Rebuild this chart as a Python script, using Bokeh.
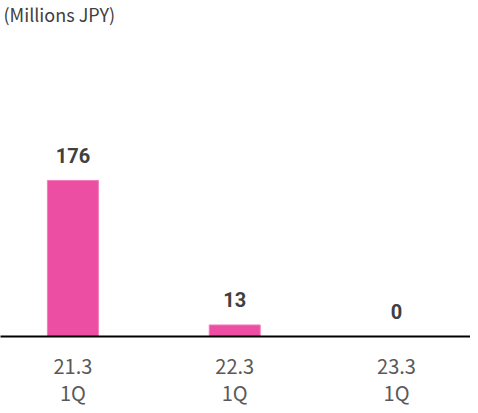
from bokeh.plotting import figure
from bokeh.models import Range1d, ColumnDataSource, Label, FixedTicker
from bokeh.core.properties import value
from bokeh.embed import file_html
from bokeh.resources import INLINE

periods = ["21.3", "22.3", "23.3"]
quarters = ["1Q", "1Q", "1Q"]
values = [176, 13, 0]
unit_label = "(Millions JPY)"

xs = list(range(len(periods)))
FONT = "Noto Sans CJK JP"
X0, X1 = -0.4475, 2.457
YMAX = 379
p = figure(frame_width=470, frame_height=336,
           x_range=Range1d(X0, X1), y_range=Range1d(0, YMAX),
           output_backend="svg", toolbar_location=None,
           y_axis_location=None, min_border_left=0, min_border_right=0,
           min_border_top=0, min_border_bottom=69)
p.outline_line_color = None
p.grid.visible = False

src = ColumnDataSource(dict(x=xs, top=values, lbl=[str(v) for v in values]))
p.vbar(x="x", top="top", width=0.315, source=src, fill_color="#EC4EA3",
       line_color="#F27DBC", line_width=1)

p.text(x="x", y="top", text="lbl", source=src, text_align="center",
       text_baseline="middle", y_offset=-25, text_font=value("Roboto"),
       text_font_size="20px", text_font_style="bold", text_color="#404040")

p.add_layout(Label(x=X0, y=YMAX, text=unit_label, text_baseline="top",
                   text_align="left", text_font=FONT, text_font_size="18px",
                   text_color="#404040", x_offset=3, y_offset=0))

ax = p.xaxis[0]
ax.ticker = FixedTicker(ticks=xs)
ax.major_label_overrides = {i: f"{a}\n{b}" for i, (a, b) in enumerate(zip(periods, quarters))}
ax.major_label_text_font = FONT
ax.major_label_text_font_size = "20px"
ax.major_label_text_color = "#595959"
ax.major_label_text_line_height = 0.95
ax.major_label_standoff = 14
ax.major_tick_line_color = None
ax.major_tick_out = 0
ax.minor_tick_line_color = None
ax.axis_line_color = "black"
ax.axis_line_width = 2

open("out.html", "w").write(file_html(p, INLINE))
